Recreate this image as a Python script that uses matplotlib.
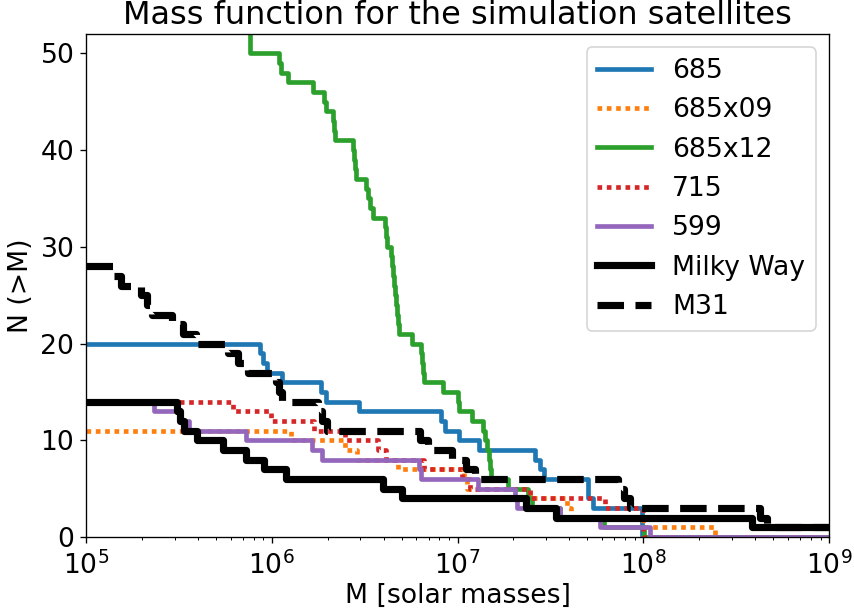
import matplotlib
matplotlib.use("Agg")
import matplotlib.pyplot as plt

plt.rcParams['font.size'] = 16

# step positions (solar masses) and the count N(>M) from that mass on
m_685 = [1e5, 8.64e5, 8.97e5, 9.43e5, 1.14e6, 1.84e6, 1.96e6, 2.95e6, 8.15e6, 8.56e6,
         1.02e7, 1.31e7, 2.61e7, 2.78e7, 2.92e7, 5.04e7, 5.36e7, 9.85e7, 1e9]
n_685 = [20, 19, 18, 17, 16, 15, 14, 13, 12, 11, 10, 9, 8, 7, 6, 4, 3, 0, 0]

m_685x09 = [1e5, 1.27e6, 2.48e6, 2.88e6, 4.78e6, 1.08e7, 1.12e7, 2.46e7, 3.89e7, 4.08e7,
            9.97e7, 2.43e8, 1e9]
n_685x09 = [11, 10, 9, 8, 7, 6, 5, 4, 3, 2, 1, 0, 0]

m_685x12 = [1e5, 7.64e5, 1.09e6, 1.12e6, 1.22e6, 1.67e6, 1.91e6, 1.96e6, 2.14e6, 2.16e6,
            2.19e6, 2.74e6, 2.77e6, 2.81e6, 2.84e6, 3.22e6, 3.30e6, 3.38e6, 3.51e6,
            4.07e6, 4.12e6, 4.17e6, 4.39e6, 4.44e6, 4.50e6, 4.55e6, 4.61e6, 4.67e6,
            4.72e6, 4.78e6, 4.84e6, 5.69e6, 6.36e6, 6.44e6, 6.52e6, 6.60e6, 8.35e6,
            1.01e7, 1.02e7, 1.20e7, 1.37e7, 1.41e7, 1.44e7, 1.48e7, 1.50e7, 1.52e7,
            1.87e7, 2.40e7, 2.52e7, 3.56e7, 6.15e7, 1.01e8, 1e9]
n_685x12 = [55, 50, 49, 48, 47, 46, 45, 44, 43, 42,
            41, 40, 39, 38, 37, 36, 35, 34, 33,
            32, 31, 30, 29, 28, 27, 26, 25, 24,
            23, 22, 21, 20, 19, 18, 17, 16, 15,
            14, 13, 12, 11, 10, 9, 8, 7, 6,
            5, 4, 3, 2, 1, 0, 0]

m_715 = [1e5, 6.19e5, 9.91e5, 1.69e6, 2.48e6, 3.73e6, 4.12e6, 6.60e6, 1.06e7, 1.17e7,
         2.46e7, 6.23e7, 9.97e7, 1e9]
n_715 = [14, 13, 12, 11, 10, 9, 8, 7, 6, 5, 4, 3, 0, 0]

m_599 = [1e5, 2.32e5, 3.17e5, 3.58e5, 7.27e5, 1.65e6, 1.86e6, 6.20e6, 6.36e6, 1.29e7,
         2.04e7, 2.09e7, 3.56e7, 5.85e7, 1.09e8, 1e9]
n_599 = [14, 13, 12, 11, 10, 9, 8, 7, 6, 5, 4, 3, 2, 1, 0, 0]

m_mw = [1e5, 3.09e5, 3.21e5, 3.37e5, 3.96e5, 5.47e5, 7.27e5, 9.08e5, 1.19e6, 3.97e6,
        5.02e6, 2.34e7, 3.39e7, 3.85e8, 1e9]
n_mw = [14, 13, 12, 11, 10, 9, 8, 7, 6, 5, 4, 3, 2, 1, 1]

m_m31 = [1e5, 1.40e5, 1.54e5, 1.98e5, 2.13e5, 2.27e5, 2.90e5, 3.33e5, 3.91e5, 5.81e5,
         6.58e5, 7.45e5, 1.05e6, 1.09e6, 1.14e6, 1.77e6, 1.86e6, 1.98e6, 6.28e6,
         6.94e6, 9.34e6, 1.11e7, 1.24e7, 7.31e7, 7.88e7, 8.49e7, 4.25e8, 4.64e8, 1e9]
n_m31 = [28, 27, 26, 25, 24, 23, 22, 21, 20, 19,
         18, 17, 16, 15, 14, 13, 12, 11, 10,
         9, 8, 7, 6, 5, 4, 3, 2, 1, 1]

fig = plt.figure(figsize=(854 / 120, 612 / 120), dpi=120)
ax = fig.add_axes([86 / 854, 1 - 537 / 612, (829 - 86) / 854, (537 - 34) / 612])

lw = 2.8
ax.step(m_685, n_685, where='post', color='C0', lw=lw, label='685')
ax.step(m_685x09, n_685x09, where='post', color='C1', lw=lw, ls=(0, (1, 1)), label='685x09')
ax.step(m_685x12, n_685x12, where='post', color='C2', lw=lw, label='685x12')
ax.step(m_715, n_715, where='post', color='C3', lw=lw, ls=(0, (1, 1)), label='715')
ax.step(m_599, n_599, where='post', color='C4', lw=lw, label='599')
ax.step(m_mw, n_mw, where='post', color='k', lw=4.3, label='Milky Way')
ax.step(m_m31, n_m31, where='post', color='k', lw=4.3, ls='--', label='M31')

ax.set_xscale('log')
ax.set_xlim(1e5, 1e9)
ax.set_ylim(0, 52)
ax.tick_params(axis='x', which='major', pad=5)
ax.set_xlabel('M [solar masses]', labelpad=2)
ax.set_ylabel('N (>M)')
ax.set_title('Mass function for the simulation satellites', fontsize='large')
ax.legend(loc='upper right')

fig.savefig('out.png', dpi=120)
